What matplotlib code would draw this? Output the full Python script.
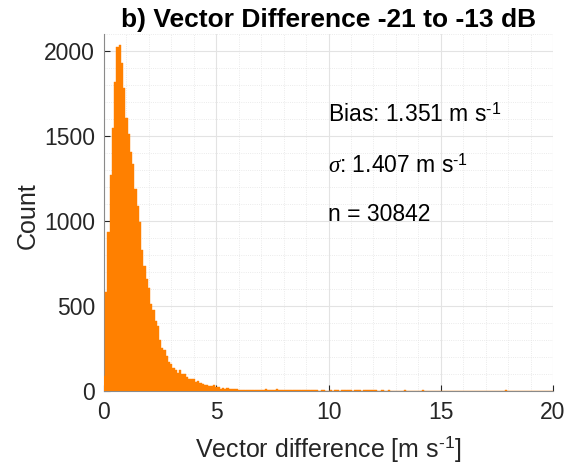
import numpy as np
import matplotlib
matplotlib.use('Agg')
import matplotlib.pyplot as plt
from matplotlib.ticker import MultipleLocator

plt.rcParams['font.family'] = ['Liberation Sans', 'DejaVu Sans']
plt.rcParams['mathtext.fontset'] = 'custom'
plt.rcParams['mathtext.rm'] = 'Liberation Sans'
plt.rcParams['mathtext.it'] = 'Liberation Serif:italic'

# histogram counts, bins of 0.1 m/s centred on 0, 0.1, 0.2 ... 20
bin_width = 0.1
counts = [
    88, 580, 937, 1270, 1545, 1820, 2026, 2035, 1928, 1785,
    1604, 1510, 1405, 1336, 1190, 1090, 992, 829, 735, 657,
    604, 513, 478, 413, 380, 300, 253, 242, 204, 172,
    160, 135, 121, 104, 122, 100, 98, 85, 72, 72,
    68, 55, 57, 50, 40, 37, 34, 29, 31, 33,
    25, 25, 14, 16, 14, 18, 10, 10, 10, 10,
    6, 8, 8, 6, 5, 6, 5, 4, 8, 7,
    5, 4, 9, 8, 5, 4, 6, 9, 8, 4,
    4, 5, 6, 4, 3, 4, 3, 4, 3, 3,
    3, 4, 3, 7, 6, 3, 2, 3, 3, 2,
    2, 3, 2, 5, 4, 2, 7, 8, 6, 6,
    3, 2, 3, 5, 3, 2, 3, 6, 8, 7,
    5, 3, 2, 2, 5, 2, 2, 3, 2, 2,
    2, 1, 2, 2, 4, 2, 2, 1, 2, 2,
    1, 2, 4, 2, 1, 2, 1, 2, 1, 1,
    2, 1, 1, 2, 1, 1, 2, 1, 1, 1,
    1, 2, 1, 1, 1, 2, 1, 1, 1, 1,
    1, 1, 2, 1, 1, 1, 1, 1, 2, 7,
    2, 1, 1, 1, 1, 2, 1, 1, 1, 1,
    1, 1, 1, 2, 1, 1, 1, 1, 1, 1, 1,
]
bias = 1.351
sigma = 1.407
n_obs = 30842
title = 'b) Vector Difference -21 to -13 dB'
unit = r'm s$^{\text{-1}}$'

centers = np.arange(len(counts)) * bin_width

fig = plt.figure(figsize=(5.72, 4.70), dpi=100)
ax = fig.add_axes([104/572, 79/470, 449/572, 357/470])

ax.bar(centers, counts, width=bin_width, align='center', color='#ff8000',
       edgecolor='#ff8000', linewidth=0.3, zorder=3)

ax.set_xlim(0, 20)
ax.set_ylim(0, 2100)
ax.set_xticks([0, 5, 10, 15, 20])
ax.set_yticks([0, 500, 1000, 1500, 2000])
ax.xaxis.set_minor_locator(MultipleLocator(1))
ax.yaxis.set_minor_locator(MultipleLocator(100))
ax.grid(True, which='major', color='#e3e3e3', linewidth=0.8, zorder=0)
ax.grid(True, which='minor', color='#e4e4e4', linewidth=0.6, linestyle=':', zorder=0)
ax.set_axisbelow(True)

for s in ['top', 'right']:
    ax.spines[s].set_visible(False)
for s in ['left', 'bottom']:
    ax.spines[s].set_color('#8a8a8a')
    ax.spines[s].set_linewidth(0.8)
ax.tick_params(which='major', direction='in', length=4, width=0.8, color='#262626',
               labelsize=16.5, labelcolor='#262626')
ax.tick_params(axis='x', pad=7.5)
ax.tick_params(axis='y', pad=6.5)
ax.tick_params(which='minor', length=0)

ax.set_xlabel(f'Vector difference [{unit}]', fontsize=18, color='#262626', va='baseline')
ax.xaxis.set_label_coords(0.5, -66/357)
ax.set_ylabel('Count', fontsize=18, color='#262626', va='center')
ax.yaxis.set_label_coords(-76/449, 0.49)
ax.set_title(title, fontsize=19, fontweight='bold', pad=5)

ax.text(10, 1580, f'Bias: {bias} {unit}', fontsize=16.5, va='baseline', ha='left')
ax.text(10, 1285, f'$\\sigma$: {sigma} {unit}', fontsize=16.5, va='baseline', ha='left')
ax.text(10, 1000, f'n = {n_obs}', fontsize=16.5, va='baseline', ha='left')

fig.savefig('out.png', dpi=100)
